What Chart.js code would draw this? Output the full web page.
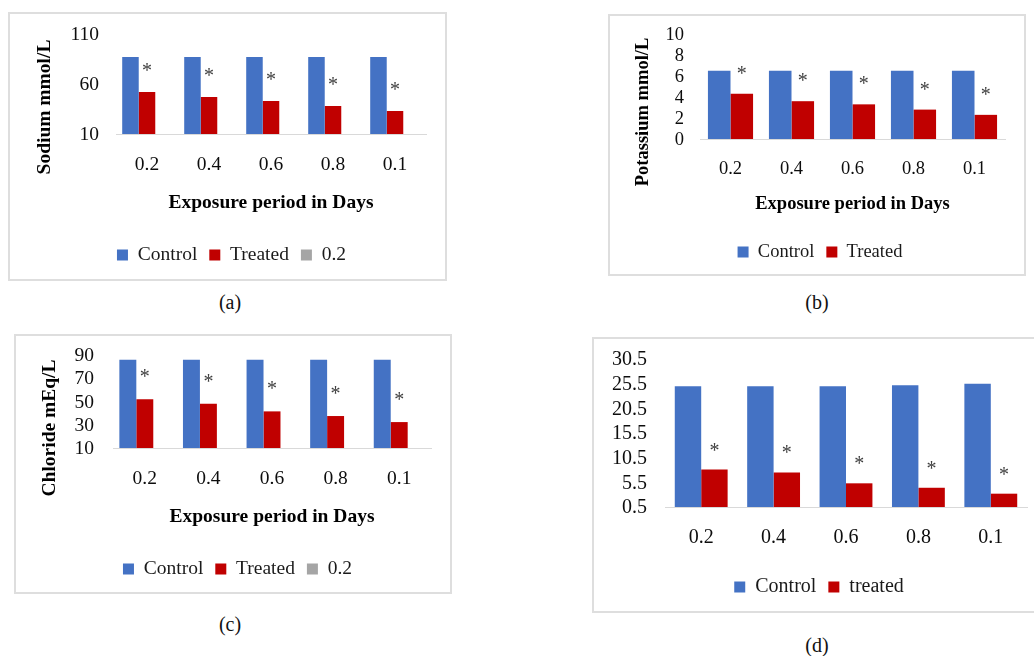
<!DOCTYPE html>
<html>
<head>
<meta charset="utf-8">
<script src="https://cdn.jsdelivr.net/npm/chart.js@4.4.0/dist/chart.umd.min.js"></script>
<style>
  body { margin: 0; width: 1034px; height: 656px; position: relative; overflow: hidden; background: #fff; font-family: "Liberation Serif", "Times New Roman", serif; }
  .frame { position: absolute; border: 2px solid #dedede; box-sizing: border-box; }
  canvas { position: absolute; }
  .cap { position: absolute; font-size: 20px; color: #111; transform: translate(-50%, -50%); white-space: nowrap; }
</style>
</head>
<body>
<div class="frame" style="left:8px;top:12px;width:439px;height:269px"></div>
<div class="frame" style="left:608px;top:14px;width:418px;height:262px"></div>
<div class="frame" style="left:14px;top:334px;width:438px;height:260px"></div>
<div class="frame" style="left:592px;top:337px;width:445px;height:276px"></div>

<canvas id="chartA" width="439" height="269" style="left:8px;top:12px"></canvas>
<canvas id="chartB" width="418" height="262" style="left:608px;top:14px"></canvas>
<canvas id="chartC" width="438" height="260" style="left:14px;top:334px"></canvas>
<canvas id="chartD" width="445" height="276" style="left:592px;top:337px"></canvas>

<div class="cap" style="left:230px;top:302px">(a)</div>
<div class="cap" style="left:817px;top:302px">(b)</div>
<div class="cap" style="left:230px;top:624px">(c)</div>
<div class="cap" style="left:817px;top:645px">(d)</div>

<script>
// Data (exposure period categories as printed on the axis)
const days = ['0.2', '0.4', '0.6', '0.8', '0.1'];

const sodiumControl = [87, 87, 87, 87, 87];
const sodiumTreated = [52, 47, 43, 38, 33];
const sodiumTicks = [10, 60, 110];

const potassiumControl = [6.5, 6.5, 6.5, 6.5, 6.5];
const potassiumTreated = [4.3, 3.6, 3.3, 2.8, 2.3];
const potassiumTicks = [0, 2, 4, 6, 8, 10];

const chlorideControl = [86, 86, 86, 86, 86];
const chlorideTreated = [52, 48, 41.5, 37.5, 32.3];
const chlorideTicks = [10, 30, 50, 70, 90];

const panelDControl = [25.0, 25.0, 25.0, 25.2, 25.5];
const panelDTreated = [8.1, 7.5, 5.3, 4.4, 3.2];
const panelDTicks = [0.5, 5.5, 10.5, 15.5, 20.5, 25.5, 30.5];

// empty third series that Excel left in (a) and (c)
const emptySeries = [null, null, null, null, null];

const BLUE = '#4472c4';
const RED = '#c00000';
const GREY = '#a5a5a5';
const FONT = '"Liberation Serif", "Times New Roman", serif';
Chart.defaults.font.family = FONT;

// text drawn with textBaseline middle sits ~2px high in this font
const TEXT_NUDGE = 2;

// asterisk above each treated bar
const starPlugin = {
    id: 'stars',
    afterDatasetsDraw(chart, args, opts) {
        const ctx = chart.ctx;
        ctx.save();
        ctx.font = opts.size + 'px ' + FONT;
        ctx.fillStyle = '#404040';
        ctx.textAlign = 'center';
        ctx.textBaseline = 'alphabetic';
        chart.getDatasetMeta(1).data.forEach(bar => {
            ctx.fillText('*', bar.x, bar.y - opts.gap + opts.size * 0.5);
        });
        ctx.restore();
    }
};

// rotated y title, placed like the Excel one (not centred on the axis)
const sideTitlePlugin = {
    id: 'sideTitle',
    afterDraw(chart, args, opts) {
        if (!opts.text) return;
        const ctx = chart.ctx;
        ctx.save();
        ctx.translate(opts.x, opts.y);
        ctx.rotate(-Math.PI / 2);
        ctx.font = 'bold ' + opts.size + 'px ' + FONT;
        ctx.fillStyle = '#000';
        ctx.textAlign = 'center';
        ctx.textBaseline = 'middle';
        ctx.fillText(opts.text, 0, 0);
        ctx.restore();
    }
};

function makeChart(id, p, datasets, ticks, xTitle, yTitle) {
    const W = p.w, H = p.h;
    const legendPad = 12;
    const legendH = p.font + legendPad + 10;
    const padBottom = H - 10 - p.font / 2 - p.legendY - TEXT_NUDGE;
    const padRight = W - p.plot[1];
    const padLeft = 2 * p.legendX - p.plot[1];
    const xH = H - padBottom - legendH - p.plot[3];
    const yW = p.plot[0] - padLeft;
    const xTickPad = p.xTickY - p.plot[3] - p.font * 1.2 / 2 + TEXT_NUDGE;
    const xTitlePad = xTitle ? (p.plot[3] + xH) - p.xTitleY - p.titleSize * 1.2 / 2 - TEXT_NUDGE : 0;

    return new Chart(document.getElementById(id), {
        type: 'bar',
        data: {
            labels: days,
            datasets: datasets.map(d => ({
                label: d.label,
                data: d.data,
                backgroundColor: d.color,
                borderWidth: 0,
                categoryPercentage: p.cat,
                barPercentage: 1.0
            }))
        },
        options: {
            responsive: false,
            animation: false,
            layout: { padding: { left: padLeft, right: padRight, top: p.plot[2], bottom: padBottom } },
            plugins: {
                tooltip: { enabled: false },
                legend: {
                    position: 'bottom',
                    labels: {
                        color: '#1a1a1a',
                        font: { family: FONT, size: p.font },
                        boxWidth: 11,
                        boxHeight: 11,
                        padding: legendPad
                    }
                },
                stars: { gap: p.starGap, size: 20 },
                sideTitle: { text: yTitle, x: p.yTitleX, y: p.yTitleY, size: p.titleSize }
            },
            scales: {
                x: {
                    grid: { display: false, drawTicks: false },
                    border: { display: true, color: '#d9d9d9', width: 1 },
                    ticks: { color: '#0d0d0d', font: { family: FONT, size: p.font }, padding: xTickPad, maxRotation: 0, autoSkip: false },
                    title: {
                        display: !!xTitle,
                        text: xTitle,
                        color: '#000',
                        font: { family: FONT, size: p.titleSize, weight: 'bold' },
                        padding: { top: 0, bottom: xTitlePad }
                    },
                    afterFit: s => { s.height = xH; }
                },
                y: {
                    min: ticks[0],
                    max: ticks[ticks.length - 1],
                    grid: { display: false, drawTicks: false },
                    border: { display: false },
                    afterBuildTicks: s => { s.ticks = ticks.map(v => ({ value: v })); },
                    ticks: {
                        color: '#0d0d0d',
                        // tiny lineHeight so label height does not push the plot top down
                        font: { family: FONT, size: p.font, lineHeight: '1px' },
                        padding: p.yTickPad,
                        labelOffset: 1,
                        autoSkip: false,
                        callback: v => String(v)
                    },
                    afterFit: s => { s.width = yW; }
                }
            }
        },
        plugins: [starPlugin, sideTitlePlugin]
    });
}

// (a) Sodium
makeChart('chartA',
    { w: 439, h: 269, plot: [108, 418, 22, 122], yTickPad: 17, xTickY: 151, xTitleY: 189,
      legendY: 241, legendX: 223.5, font: 19.5, titleSize: 19.5, yTitleX: 37, yTitleY: 95,
      starGap: 25, cat: 0.8 },
    [
        { label: 'Control', data: sodiumControl, color: BLUE },
        { label: 'Treated', data: sodiumTreated, color: RED },
        { label: '0.2', data: emptySeries, color: GREY }
    ],
    sodiumTicks, 'Exposure period in Days', 'Sodium mmol/L');

// (b) Potassium
makeChart('chartB',
    { w: 418, h: 262, plot: [92, 397, 20, 125], yTickPad: 16, xTickY: 153, xTitleY: 188,
      legendY: 236, legendX: 212, font: 18.5, titleSize: 18.5, yTitleX: 35, yTitleY: 98,
      starGap: 24, cat: 0.74 },
    [
        { label: 'Control', data: potassiumControl, color: BLUE },
        { label: 'Treated', data: potassiumTreated, color: RED }
    ],
    potassiumTicks, 'Exposure period in Days', 'Potassium mmol/L');

// (c) Chloride
makeChart('chartC',
    { w: 438, h: 260, plot: [99, 417, 21, 114], yTickPad: 19, xTickY: 143, xTitleY: 181,
      legendY: 233, legendX: 223.5, font: 19.5, titleSize: 19.5, yTitleX: 36, yTitleY: 94,
      starGap: 26, cat: 0.8 },
    [
        { label: 'Control', data: chlorideControl, color: BLUE },
        { label: 'Treated', data: chlorideTreated, color: RED },
        { label: '0.2', data: emptySeries, color: GREY }
    ],
    chlorideTicks, 'Exposure period in Days', 'Chloride mEq/L');

// (d) no axis titles
makeChart('chartD',
    { w: 445, h: 276, plot: [73, 435, 22, 170], yTickPad: 18, xTickY: 199, xTitleY: 0,
      legendY: 248, legendX: 227, font: 20, titleSize: 20, yTitleX: 0, yTitleY: 0,
      starGap: 23, cat: 0.73 },
    [
        { label: 'Control', data: panelDControl, color: BLUE },
        { label: 'treated', data: panelDTreated, color: RED }
    ],
    panelDTicks, '', '');
</script>
</body>
</html>
